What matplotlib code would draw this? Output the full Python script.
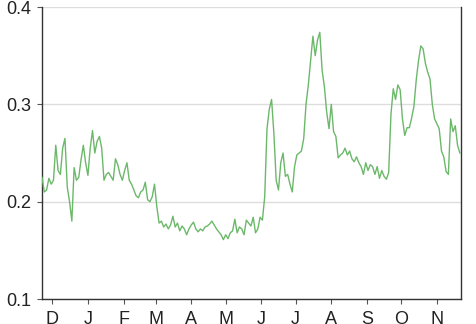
import matplotlib
matplotlib.use("Agg")
import matplotlib.pyplot as plt
import matplotlib.dates as mdates
from matplotlib.ticker import FuncFormatter
import pandas as pd

start_date = "2018-11-22"
step_days = 2
values = [
    0.225, 0.210, 0.212, 0.224, 0.218, 0.222, 0.258, 0.232, 0.228, 0.255,
    0.265, 0.215, 0.200, 0.180, 0.235, 0.222, 0.225, 0.243, 0.258, 0.240,
    0.227, 0.255, 0.273, 0.250, 0.262, 0.267, 0.255, 0.222, 0.228, 0.230,
    0.226, 0.222, 0.244, 0.238, 0.228, 0.222, 0.232, 0.240, 0.222, 0.218,
    0.212, 0.206, 0.204, 0.210, 0.212, 0.220, 0.202, 0.200, 0.205, 0.218,
    0.195, 0.178, 0.180, 0.174, 0.177, 0.172, 0.176, 0.185, 0.174, 0.178,
    0.170, 0.175, 0.172, 0.166, 0.172, 0.176, 0.179, 0.172, 0.169, 0.172,
    0.170, 0.174, 0.175, 0.177, 0.180, 0.176, 0.172, 0.169, 0.166, 0.161,
    0.166, 0.162, 0.168, 0.170, 0.182, 0.168, 0.174, 0.172, 0.166, 0.181,
    0.178, 0.175, 0.184, 0.168, 0.172, 0.184, 0.181, 0.205, 0.275, 0.295,
    0.305, 0.270, 0.222, 0.212, 0.240, 0.250, 0.226, 0.228, 0.218, 0.210,
    0.236, 0.248, 0.250, 0.252, 0.265, 0.300, 0.320, 0.345, 0.370, 0.350,
    0.366, 0.374, 0.335, 0.318, 0.292, 0.275, 0.300, 0.272, 0.267, 0.245,
    0.248, 0.250, 0.255, 0.248, 0.252, 0.244, 0.241, 0.246, 0.240, 0.236,
    0.228, 0.240, 0.232, 0.238, 0.236, 0.228, 0.236, 0.224, 0.232, 0.226,
    0.223, 0.230, 0.290, 0.316, 0.305, 0.320, 0.315, 0.285, 0.268, 0.276,
    0.276, 0.286, 0.298, 0.325, 0.345, 0.360, 0.357, 0.342, 0.333, 0.326,
    0.300, 0.285, 0.280, 0.275, 0.252, 0.246, 0.231, 0.228, 0.285, 0.272,
    0.278, 0.258, 0.250,
]
x_start = "2018-11-22"
x_end = "2019-11-22"
y_ticks = [0.1, 0.2, 0.3, 0.4]
y_tick_labels = ["0.1", "0.2", "0.3", "0.4"]

dates = pd.date_range(start_date, periods=len(values), freq=f"{step_days}D")

plt.rcParams["font.family"] = ["Liberation Sans", "DejaVu Sans"]

W, H = 476, 324
fig = plt.figure(figsize=(W / 100, H / 100), dpi=100)
ax = fig.add_axes([42 / W, (H - 299) / H, (461 - 42) / W, (299 - 7) / H])

ax.plot(dates, values, color="#6cb86a", lw=1.0, zorder=3)

ax.set_xlim(pd.Timestamp(x_start), pd.Timestamp(x_end))
ax.set_ylim(0.1, 0.4)
ax.set_yticks(y_ticks)
ax.set_yticklabels(y_tick_labels)

ax.xaxis.set_major_locator(mdates.MonthLocator())
ax.xaxis.set_major_formatter(FuncFormatter(lambda v, p: mdates.num2date(v).strftime("%b")[0]))

ax.grid(axis="y", color="#dddddd", lw=1.0, zorder=0)
ax.grid(axis="x", visible=False)

for s in ["left", "right", "bottom"]:
    ax.spines[s].set_color("#333333")
    ax.spines[s].set_linewidth(1.0)
ax.spines["top"].set_visible(False)

ax.tick_params(axis="both", which="major", length=3.5, width=0.8, color="#555555",
               labelsize=13, labelcolor="#222222", pad=4)
ax.tick_params(axis="x", pad=5)

fig.savefig("out.png", dpi=100)
